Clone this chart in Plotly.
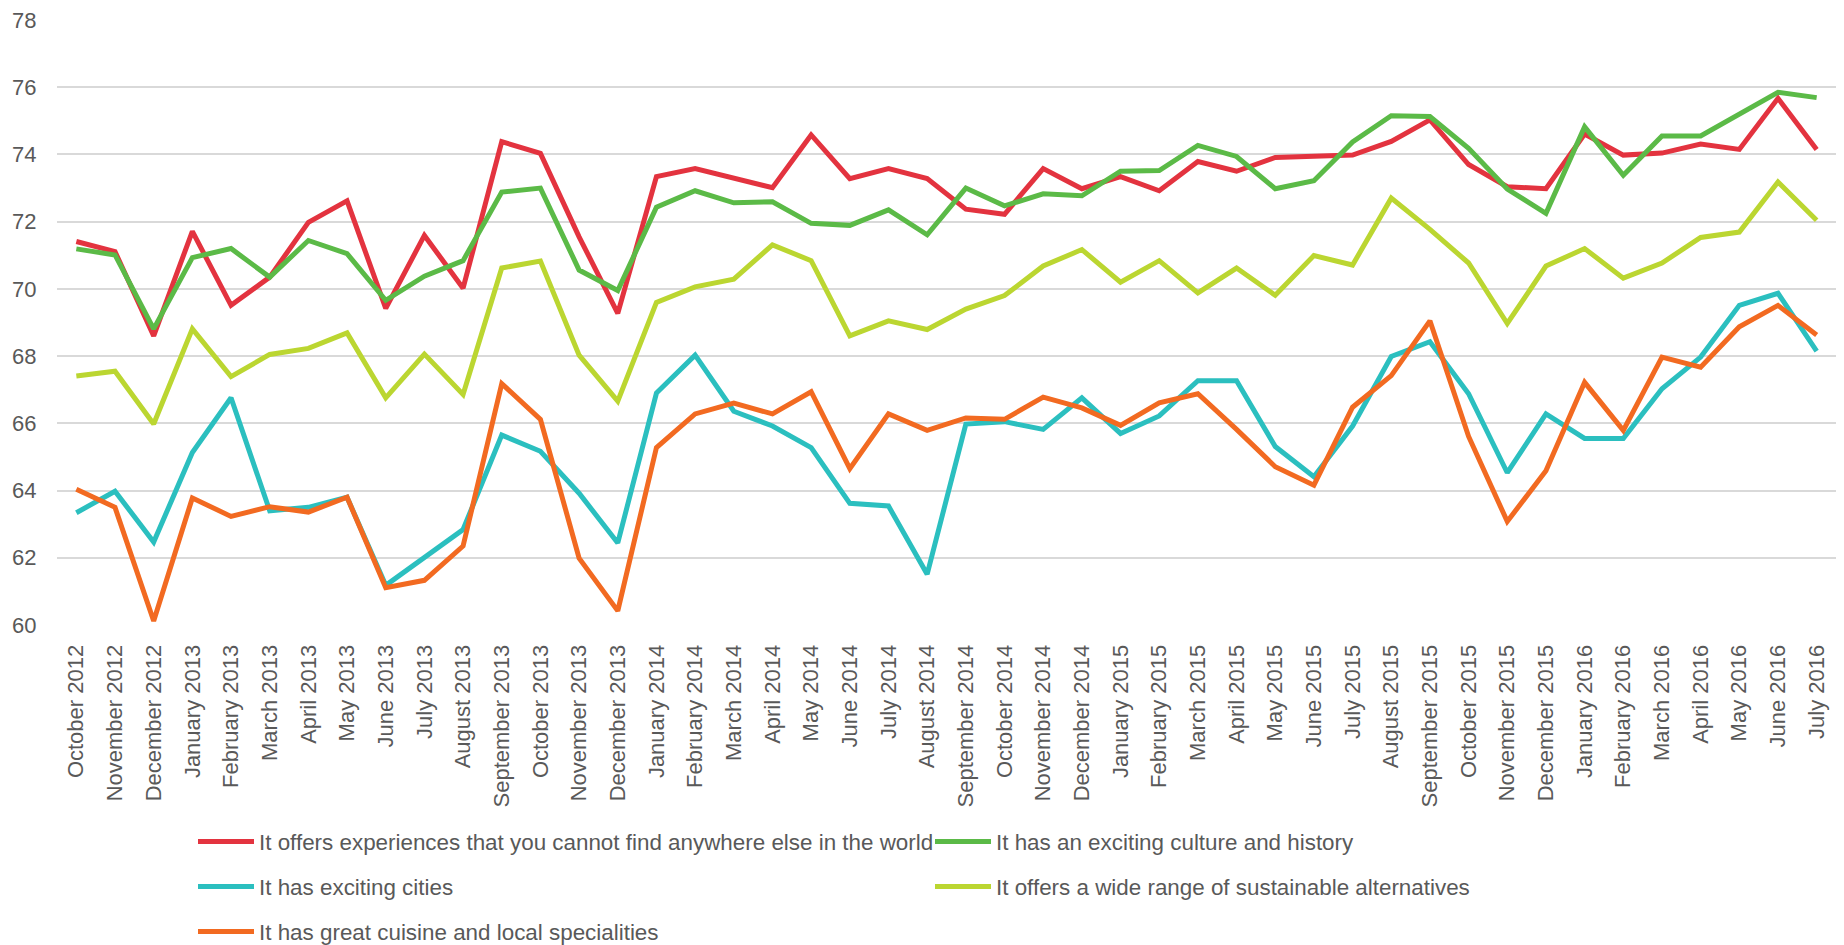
import plotly.graph_objects as go

months = [
    "October 2012", "November 2012", "December 2012", "January 2013", "February 2013",
    "March 2013", "April 2013", "May 2013", "June 2013", "July 2013", "August 2013",
    "September 2013", "October 2013", "November 2013", "December 2013", "January 2014",
    "February 2014", "March 2014", "April 2014", "May 2014", "June 2014", "July 2014",
    "August 2014", "September 2014", "October 2014", "November 2014", "December 2014",
    "January 2015", "February 2015", "March 2015", "April 2015", "May 2015", "June 2015",
    "July 2015", "August 2015", "September 2015", "October 2015", "November 2015",
    "December 2015", "January 2016", "February 2016", "March 2016", "April 2016",
    "May 2016", "June 2016", "July 2016",
]

experiences = [
    71.41, 71.11, 68.60, 71.71, 69.51, 70.35, 71.98, 72.62, 69.42, 71.59, 70.02, 74.38, 74.03, 71.55, 69.27,
    73.34, 73.58, 73.30, 73.01, 74.58, 73.28, 73.58, 73.28, 72.37, 72.22, 73.58, 72.98, 73.34, 72.92, 73.79,
    73.50, 73.91, 73.94, 73.98, 74.39, 75.03, 73.70, 73.04, 72.98, 74.61, 73.98, 74.04, 74.31, 74.15, 75.67, 74.15,
]
culture = [
    71.19, 71.01, 68.81, 70.93, 71.20, 70.35, 71.44, 71.05, 69.66, 70.38, 70.84, 72.88, 73.00, 70.56, 69.95,
    72.43, 72.92, 72.56, 72.59, 71.95, 71.89, 72.35, 71.61, 73.00, 72.47, 72.83, 72.77, 73.50, 73.52, 74.27,
    73.94, 72.98, 73.22, 74.37, 75.15, 75.13, 74.18, 72.97, 72.25, 74.82, 73.38, 74.55, 74.55, 75.19, 75.85, 75.69,
]
cities = [
    63.34, 63.98, 62.47, 65.13, 66.76, 63.40, 63.50, 63.80, 61.18, 62.02, 62.84, 65.65, 65.17, 63.92, 62.44,
    66.90, 68.03, 66.36, 65.92, 65.28, 63.62, 63.54, 61.51, 65.98, 66.05, 65.82, 66.76, 65.70, 66.22, 67.27,
    67.27, 65.31, 64.41, 65.92, 67.99, 68.43, 66.88, 64.53, 66.28, 65.55, 65.55, 67.03, 67.97, 69.51, 69.87, 68.15,
]
sustainable = [
    67.41, 67.55, 65.98, 68.81, 67.39, 68.05, 68.23, 68.69, 66.76, 68.06, 66.86, 70.62, 70.83, 68.03, 66.66,
    69.60, 70.06, 70.29, 71.31, 70.84, 68.60, 69.05, 68.79, 69.40, 69.80, 70.68, 71.17, 70.20, 70.84, 69.88,
    70.62, 69.81, 70.99, 70.71, 72.70, 71.77, 70.77, 68.97, 70.68, 71.20, 70.32, 70.77, 71.53, 71.69, 73.18, 72.04,
]
cuisine = [
    64.04, 63.50, 60.12, 63.78, 63.23, 63.52, 63.36, 63.80, 61.11, 61.33, 62.35, 67.18, 66.12, 61.99, 60.42,
    65.28, 66.28, 66.60, 66.28, 66.94, 64.65, 66.28, 65.79, 66.16, 66.12, 66.78, 66.46, 65.94, 66.61, 66.88,
    65.82, 64.71, 64.16, 66.48, 67.42, 69.05, 65.61, 63.08, 64.59, 67.22, 65.79, 67.97, 67.67, 68.87, 69.51, 68.63,
]

series = [
    ("It offers experiences that you cannot find anywhere else in the world", experiences, "#E3333F", "legend"),
    ("It has an exciting culture and history", culture, "#5BBA47", "legend"),
    ("It has exciting cities", cities, "#2BBFBF", "legend2"),
    ("It offers a wide range of sustainable alternatives", sustainable, "#BBD631", "legend2"),
    ("It has great cuisine and local specialities", cuisine, "#F26A21", "legend3"),
]

FONT = "Liberation Sans, Arial, sans-serif"
TEXT = "#595959"

fig = go.Figure()
for name, values, color, leg in series:
    fig.add_trace(go.Scatter(
        x=months, y=values, name=name, mode="lines",
        line=dict(color=color, width=5),
        legend=leg,
    ))

# three one-row legends stacked under the axis labels (two entries per row)
legend_common = dict(
    orientation="h", xref="container", yref="container",
    xanchor="left", yanchor="middle",
    font=dict(family=FONT, size=22.4, color=TEXT),
    bgcolor="rgba(0,0,0,0)", borderwidth=0,
    itemwidth=56,
    entrywidth=666, entrywidthmode="pixels",
    itemclick=False, itemdoubleclick=False,
)

fig.update_layout(
    width=1844, height=945,
    margin=dict(l=57, r=8, t=16, b=320),
    paper_bgcolor="white", plot_bgcolor="white",
    font=dict(family=FONT, size=22, color=TEXT),
    xaxis=dict(
        type="category", range=[-0.5, len(months) - 0.5],
        tickangle=-90, tickfont=dict(family=FONT, size=22, color=TEXT),
        ticks="outside", ticklen=10, tickcolor="rgba(0,0,0,0)",
        showgrid=False, showline=False, zeroline=False,
    ),
    yaxis=dict(
        range=[60, 78], dtick=2, tick0=60,
        tickfont=dict(family=FONT, size=22, color=TEXT),
        ticks="outside", ticklen=15, tickcolor="rgba(0,0,0,0)",
        showgrid=True, gridcolor="#D9D9D9", gridwidth=2,
        showline=False, zeroline=False,
    ),
    legend=dict(legend_common, x=193 / 1844, y=1 - 842 / 945),
    legend2=dict(legend_common, x=193 / 1844, y=1 - 887 / 945),
    legend3=dict(legend_common, x=193 / 1844, y=1 - 932 / 945),
    showlegend=True,
)

fig.write_html("out.html")
